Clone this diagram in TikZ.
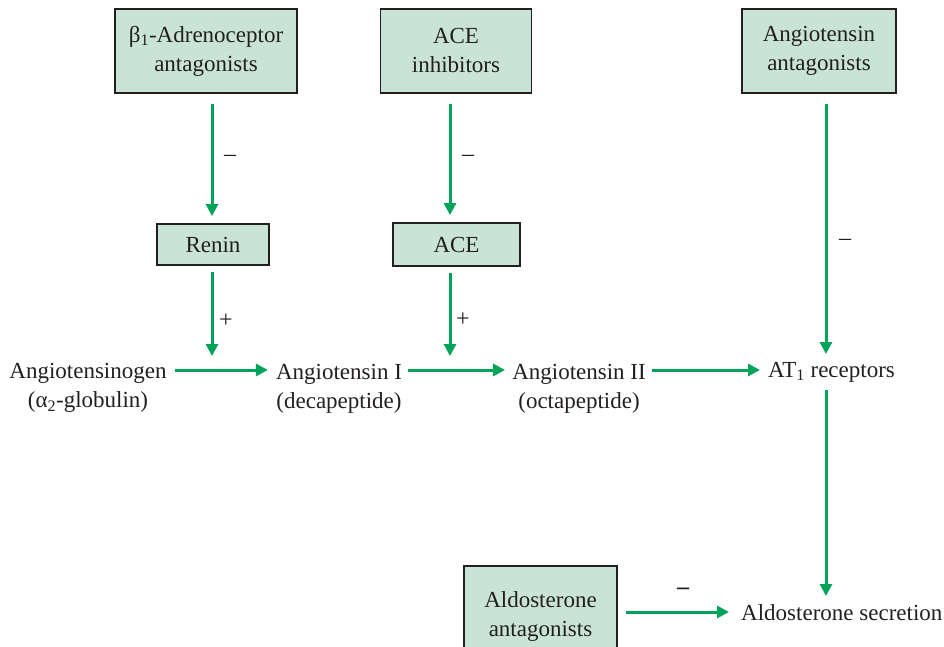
\documentclass[tikz,border=0pt]{standalone}
\usepackage{fontspec}
\setmainfont{Liberation Serif}
\usetikzlibrary{arrows.meta}
\definecolor{agreen}{RGB}{0,163,90}
\definecolor{boxfill}{RGB}{201,228,215}
\definecolor{txt}{RGB}{35,31,32}
\begin{document}
\begin{tikzpicture}[x=1pt,y=-1pt,
  font=\fontsize{23}{29}\selectfont, text=txt,
  drugbox/.style={draw=txt, line width=1.8pt, fill=boxfill, align=center, inner sep=0pt},
  plain/.style={align=center, inner sep=0pt},
  flow/.style={draw=agreen, line width=3pt, -{Triangle[length=12pt,width=12pt]}},
  sign/.style={inner sep=0pt, font=\fontsize{24}{24}\selectfont}]
\useasboundingbox (0,0) rectangle (944,647);
% boxes
\node[drugbox, minimum width=182pt, minimum height=84pt] (b1) at (206,51) {β\textsubscript{1}-Adrenoceptor\\antagonists};
\node[drugbox, minimum width=151pt, minimum height=84pt] (acei) at (456,51) {ACE\\inhibitors};
\node[drugbox, minimum width=154pt, minimum height=84pt] (angant) at (819,51) {Angiotensin\\antagonists};
\node[drugbox, minimum width=112pt, minimum height=41pt] (renin) at (213,244.5) {Renin};
\node[drugbox, minimum width=127pt, minimum height=43pt] (ace) at (456.5,244.5) {ACE};
\node[drugbox, minimum width=153pt, minimum height=100pt] (aldant) at (540.5,616) {Aldosterone\\antagonists};
% text nodes
\node[plain] (agen) at (88,388) {Angiotensinogen\\(α\textsubscript{2}-globulin)};
\node[plain] (ang1) at (339,389) {Angiotensin I\\(decapeptide)};
\node[plain] (ang2) at (579,389) {Angiotensin II\\(octapeptide)};
\node[plain, anchor=west] (at1) at (768,372) {AT\textsubscript{1} receptors};
\node[plain, anchor=west] (aldsec) at (741,613) {Aldosterone secretion};
% helper coordinates
\coordinate (row) at (0,370);
\coordinate (c1) at (212,0);
\coordinate (c2) at (450,0);
\coordinate (c3) at (826,0);
\coordinate (j1) at (212,356);
\coordinate (j2) at (450,356);
\coordinate (j3) at (826,354);
\coordinate (j4) at (826,596);
% vertical arrows
\draw[flow, shorten <=10pt, shorten >=7pt] (c1 |- b1.south) -- (c1 |- renin.north);
\draw[flow, shorten <=10pt, shorten >=7pt] (c2 |- acei.south) -- (c2 |- ace.north);
\draw[flow, shorten <=6pt] (c1 |- renin.south) -- (j1);
\draw[flow, shorten <=6pt] (c2 |- ace.south) -- (j2);
\draw[flow, shorten <=10pt] (c3 |- angant.south) -- (j3);
\draw[flow] (826,390) -- (j4);
% horizontal arrows
\draw[flow, shorten <=8pt, shorten >=8pt] (agen.east |- row) -- (ang1.west |- row);
\draw[flow, shorten <=6pt, shorten >=7pt] (ang1.east |- row) -- (ang2.west |- row);
\draw[flow, shorten <=6pt, shorten >=8pt] (ang2.east |- row) -- (at1.west |- row);
\draw[flow, shorten <=8pt, shorten >=12pt] (aldant.east |- 0,612) -- (aldsec.west |- 0,612);
% signs
\node[sign] (s1) at (230,158) {–};
\node[sign] (s2) at (468,158) {–};
\node[sign] (s3) at (845,242) {–};
\node[sign] (s4) at (226,321) {+};
\node[sign] (s5) at (463,320) {+};
\node[sign, font=\fontsize{24}{24}\selectfont\bfseries] (s6) at (683,591) {–};
\end{tikzpicture}
\end{document}
